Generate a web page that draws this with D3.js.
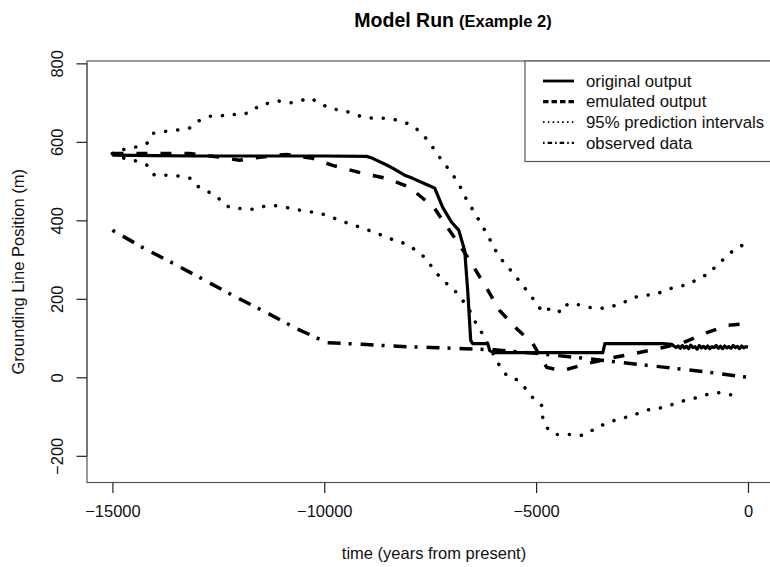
<!DOCTYPE html>
<html>
<head>
<meta charset="utf-8">
<script src="https://cdn.jsdelivr.net/npm/d3@7"></script>
<style>
  html, body { margin: 0; padding: 0; background: #fff; }
  svg { display: block; font-family: "Liberation Sans", Arial, sans-serif; }
</style>
</head>
<body>
<svg id="chart" width="770" height="567"></svg>
<script>
// ---- Data ----
const xTicks = [-15000, -10000, -5000, 0];
const yTicks = [-200, 0, 200, 400, 600, 800];

const originalYears = [-15000, -14000, -13000, -12000, -11000, -10000, -9001, -8859, -8528, -8387, -8103, -7914, -7560, -7394, -7205, -6993, -6827, -6686, -6615, -6544, -6497, -6142, -6095, -5976, -3425, -3378, -2008, -1800,
  -1700, -1650, -1600, -1550, -1500, -1450, -1400, -1350, -1300, -1250, -1200, -1150, -1100, -1050, -1000, -950, -900, -850, -800, -750, -700, -650, -600, -550, -500, -450, -400, -350, -300, -250, -200, -150, -100, -50, 0];
const originalValues = [566, 565, 564, 564, 564, 564, 563, 558, 541, 533, 515, 507, 490, 482, 433, 395, 375, 323, 221, 94, 86, 86, 68, 63, 63, 86, 86, 84,
  76, 80, 74, 81, 75, 79, 73, 82, 76, 78, 72, 81, 75, 79, 74, 80, 73, 78, 76, 81, 74, 79, 73, 80, 75, 78, 74, 81, 76, 79, 73, 80, 75, 78, 77];

const emulatedYears = [-15000, -13800, -13182, -12473, -12001, -11528, -10890, -10276, -9804, -9095, -8528, -7985, -7560, -7442, -7158, -6851, -6568, -6166, -5859, -5457, -5079, -4748, -4370, -3803, -3189, -2622, -2008, -1536, -969, -496, 0];
const emulatedValues = [570, 570, 570, 561, 553, 561, 568, 558, 540, 520, 507, 484, 446, 438, 392, 344, 298, 227, 170, 124, 86, 25, 17, 35, 50, 62, 76, 88, 114, 132, 137];

const upperYears = [-15000, -14718, -14434, -14174, -14033, -13726, -13466, -13182, -12970, -12710, -12473, -12237, -12001, -11718, -11528, -11292, -11080, -10820, -10584, -10347, -10111, -9851, -9591, -9331, -9095, -8812, -8528, -8268, -7985, -7749, -7560, -7394, -7229, -7064, -6875, -6733, -6615, -6449, -6308, -6166, -6024, -5882, -5693, -5504, -5315, -5150, -4985, -4843, -4630, -4394, -4252, -3992, -3756, -3496, -3236, -2977, -2717, -2457, -2173, -1914, -1654, -1394, -1134, -898, -732, -520, -354, -142, -50];
const upperValues = [570, 581, 587, 597, 622, 627, 630, 635, 653, 665, 665, 671, 668, 676, 694, 699, 704, 699, 704, 712, 699, 684, 681, 673, 663, 660, 660, 655, 645, 627, 604, 579, 553, 530, 502, 474, 446, 420, 392, 367, 337, 308, 285, 260, 234, 211, 188, 165, 178, 165, 188, 185, 178, 175, 180, 188, 203, 209, 211, 224, 231, 237, 254, 265, 288, 305, 323, 336, 348];

const lowerYears = [-15000, -14718, -14434, -14174, -14009, -13726, -13442, -13158, -12993, -12757, -12521, -12332, -12143, -11906, -11670, -11410, -11198, -10914, -10678, -10442, -10182, -9946, -9686, -9426, -9142, -8883, -8646, -8387, -8103, -7867, -7654, -7465, -7300, -7111, -6922, -6733, -6568, -6426, -6284, -5859, -5693, -5457, -5244, -5079, -4866, -4843, -4748, -4559, -4370, -4181, -3992, -3780, -3567, -3331, -3071, -2788, -2504, -2268, -1984, -1725, -1441, -1205, -969, -685, -449, -189];
const lowerValues = [570, 558, 551, 540, 515, 515, 513, 507, 487, 474, 459, 438, 430, 430, 428, 436, 438, 433, 428, 423, 420, 413, 402, 392, 382, 372, 362, 351, 341, 326, 308, 282, 259, 239, 221, 196, 170, 139, 114, 29, 4, -6, -29, -52, -72, -103, -128, -146, -146, -146, -149, -144, -126, -118, -106, -100, -88, -80, -77, -67, -57, -52, -44, -39, -44, -47];

const observedYears = [-15000, -14292, -13560, -12851, -12095, -11363, -10654, -9922, -9100, -8270, -7500, -6700, -6000, -5000, -4000, -3000, -2000, -1000, 0];
const observedValues = [375, 331, 290, 249, 205, 165, 124, 88, 84, 79, 76, 73, 70, 61, 50, 38, 26, 14, 0];

const legendLabels = ["original output", "emulated output", "95% prediction intervals", "observed data"];

// ---- Layout ----
const svg = d3.select("#chart");
const plot = { left: 87, top: 61, right: 773.4, bottom: 482.5 };

const x = d3.scaleLinear().domain([-15600, 600]).range([plot.left, plot.right]);
const y = d3.scaleLinear().domain([-268, 806]).range([plot.bottom, plot.top]);

const axisColor = "#555";
const textColor = "#111";

// Box
svg.append("rect")
  .attr("x", plot.left).attr("y", plot.top)
  .attr("width", plot.right - plot.left).attr("height", plot.bottom - plot.top)
  .attr("fill", "none").attr("stroke", axisColor).attr("stroke-width", 1.2);

// X axis
const xAxis = d3.axisBottom(x).tickValues(xTicks).tickSize(10.5).tickPadding(12)
  .tickFormat(d => d3.format("d")(d).replace("-", "\u2212"));
const gx = svg.append("g").attr("transform", `translate(0,${plot.bottom})`).call(xAxis);
gx.select(".domain").attr("d", `M${x(xTicks[0])},0H${x(xTicks[xTicks.length - 1])}`).attr("stroke", axisColor);
gx.selectAll(".tick line").attr("stroke", "#222").attr("stroke-width", 1.2);
gx.selectAll(".tick text").attr("fill", textColor).attr("font-size", 16.5)
  .attr("font-family", "Liberation Sans, Arial, sans-serif").attr("dy", "0.71em");

// Y axis
const yAxis = d3.axisLeft(y).tickValues(yTicks).tickSize(10.5).tickPadding(0)
  .tickFormat(d => d3.format("d")(d).replace("-", "\u2212"));
const gy = svg.append("g").attr("transform", `translate(${plot.left},0)`).call(yAxis);
gy.select(".domain").attr("d", `M0,${y(yTicks[0])}V${y(yTicks[yTicks.length - 1])}`).attr("stroke", axisColor);
gy.selectAll(".tick line").attr("stroke", "#222").attr("stroke-width", 1.2);
gy.selectAll(".tick text")
  .attr("fill", textColor).attr("font-size", 16.5)
  .attr("font-family", "Liberation Sans, Arial, sans-serif")
  .attr("x", null).attr("dy", null)
  .attr("text-anchor", "middle")
  .attr("transform", "translate(-30,0) rotate(-90)")
  .attr("dy", "0.35em");

// Lines
const line = d3.line().x(d => x(d[0])).y(d => y(d[1]));
const zip = (a, b) => a.map((v, i) => [v, b[i]]);

const g = svg.append("g").attr("fill", "none").attr("stroke", "#000");

g.append("path").datum(zip(originalYears, originalValues))
  .attr("d", line).attr("stroke-width", 3.2).attr("stroke-linejoin", "round");

g.append("path").datum(zip(emulatedYears, emulatedValues))
  .attr("d", line).attr("stroke-width", 3.5).attr("stroke-dasharray", "11 13");

g.append("path").datum(zip(upperYears, upperValues))
  .attr("d", line).attr("stroke-width", 3.5).attr("stroke-dasharray", "0.1 12").attr("stroke-linecap", "round");

g.append("path").datum(zip(lowerYears, lowerValues))
  .attr("d", line).attr("stroke-width", 3.5).attr("stroke-dasharray", "0.1 12").attr("stroke-linecap", "round");

g.append("path").datum(zip(observedYears, observedValues))
  .attr("d", line)
  .attr("stroke-width", 3.5).attr("stroke-dasharray", "3 9 13 8");

// Legend
svg.append("rect")
  .attr("x", 525).attr("y", plot.top)
  .attr("width", plot.right - 525).attr("height", 161.5 - plot.top)
  .attr("fill", "#fff").attr("stroke", axisColor).attr("stroke-width", 1.2);

const legStyles = [
  { w: 2.8, dash: null, cap: "butt" },
  { w: 3.2, dash: "5.5 3", cap: "butt" },
  { w: 1.8, dash: "1.6 3.2", cap: "butt" },
  { w: 2.2, dash: "1.6 3 4.5 3", cap: "butt" }
];
const legY0 = 81, legStep = 20.6;
legendLabels.forEach((lab, i) => {
  const yy = legY0 + i * legStep;
  const ln = svg.append("line").attr("x1", 543).attr("x2", 574).attr("y1", yy).attr("y2", yy)
    .attr("stroke", "#000").attr("stroke-width", legStyles[i].w).attr("stroke-linecap", legStyles[i].cap);
  if (legStyles[i].dash) ln.attr("stroke-dasharray", legStyles[i].dash);
  svg.append("text").attr("x", 586).attr("y", yy).attr("dy", "0.35em")
    .attr("font-size", 16.8).attr("fill", textColor).text(lab);
});

// Title
const title = svg.append("text").attr("x", 453).attr("y", 27).attr("text-anchor", "middle")
  .attr("font-weight", "bold").attr("fill", "#000");
title.append("tspan").attr("font-size", 19.5).text("Model Run");
title.append("tspan").attr("font-size", 16.5).attr("dx", 5).text("(Example 2)");

// Axis titles
svg.append("text").attr("x", 434).attr("y", 553).attr("dy", "0.35em").attr("text-anchor", "middle")
  .attr("font-size", 16.5).attr("fill", textColor).text("time (years from present)");
svg.append("text").attr("transform", `translate(18,${(plot.top + plot.bottom) / 2}) rotate(-90)`)
  .attr("dy", "0.35em").attr("text-anchor", "middle")
  .attr("font-size", 16.5).attr("fill", textColor).text("Grounding Line Position (m)");
</script>
</body>
</html>
